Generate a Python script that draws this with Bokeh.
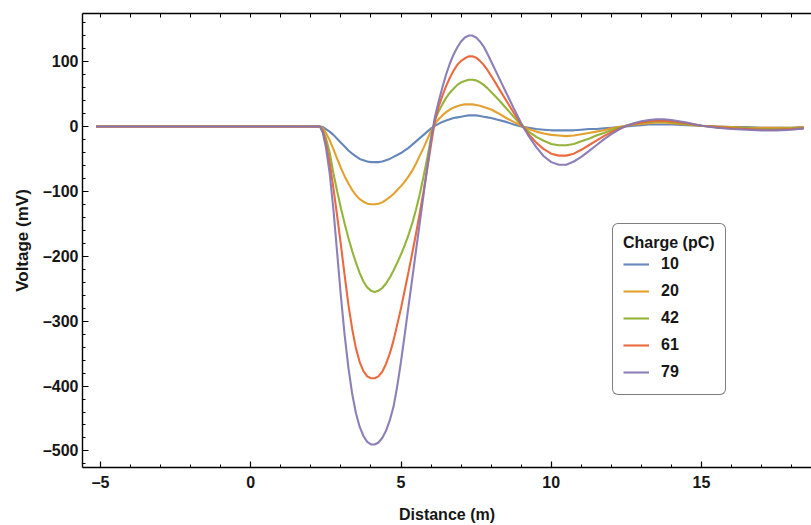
from bokeh.plotting import figure
from bokeh.models import (LinearAxis, SingleIntervalTicker, FixedTicker, Range1d,
                          Legend, LegendItem, CustomJSTickFormatter)
from bokeh.embed import file_html
from bokeh.resources import INLINE

# ---------------- data ----------------
distance = [-5.15, -4, -3, -2, -1, 0, 1, 2, 2.3, 2.4,
            2.5, 2.625, 2.75, 2.875, 3.0, 3.125, 3.25, 3.375, 3.5, 3.625,
            3.75, 3.875, 4.0, 4.125, 4.25, 4.375, 4.5, 4.625, 4.75, 4.875,
            5.0, 5.125, 5.25, 5.375, 5.5, 5.625, 5.75, 5.875, 6.0, 6.125,
            6.25, 6.375, 6.5, 6.625, 6.75, 6.875, 7.0, 7.125, 7.25, 7.375,
            7.5, 7.625, 7.75, 7.875, 8.0,
            8.25, 8.5, 8.75, 9.0, 9.25, 9.5, 9.75, 10.0, 10.25, 10.5,
            10.75, 11.0, 11.25, 11.5, 11.75, 12.0, 12.25, 12.5, 12.75, 13.0,
            13.25, 13.5, 13.75, 14.0,
            14.5, 15.0, 15.5, 16.0, 16.5, 17.0, 17.5, 18.0, 18.4]

v_10 = [0, 0, 0, 0, 0, 0, 0, 0, 0, -1,
        -4, -8, -13, -19, -25, -31, -37, -42, -46, -50,
        -52, -54, -55, -55, -55, -54, -52, -50, -47, -44,
        -41, -37, -33, -28, -23, -18, -13, -8, -3, 1,
        4, 7, 9, 11, 13, 14, 15, 16, 17, 17,
        17, 16, 15, 14, 13,
        10, 7, 3, 0, -2, -4, -5, -6, -6, -6,
        -6, -5, -4, -4, -3, -2, -1, 0, 1, 2,
        3, 3, 3, 3,
        2, 1, 0, -1, -1, -2, -2, -2, -1]

v_20 = [0, 0, 0, 0, 0, 0, 0, 0, 0, -3,
        -10, -21, -35, -50, -64, -77, -88, -98, -106, -112,
        -116, -119, -120, -120, -119, -117, -113, -109, -104, -98,
        -92, -85, -77, -68, -57, -45, -33, -20, -7, 4,
        11, 17, 22, 26, 29, 31, 33, 34, 34, 34,
        33, 32, 30, 28, 26,
        20, 13, 7, 1, -4, -8, -11, -13, -14, -15,
        -14, -12, -10, -8, -6, -3, -1, 1, 3, 4,
        5, 6, 6, 5,
        3, 1, 0, -1, -2, -2, -2, -2, -1]

v_42 = [0, 0, 0, 0, 0, 0, 0, 0, 0, -6,
        -18, -40, -72, -100, -126, -150, -172, -192, -210, -226,
        -239, -248, -253, -255, -253, -249, -242, -233, -222, -210,
        -197, -183, -167, -149, -128, -104, -77, -48, -17, 10,
        23, 34, 44, 52, 58, 64, 68, 70, 72, 72,
        71, 68, 64, 59, 53,
        41, 28, 15, 2, -8, -16, -22, -27, -29, -29,
        -27, -23, -19, -14, -10, -6, -2, 1, 4, 6,
        7, 8, 8, 7,
        4, 1, -1, -2, -3, -4, -4, -3, -2]

v_61 = [0, 0, 0, 0, 0, 0, 0, 0, 0, -8,
        -25, -55, -95, -138, -183, -230, -275, -312, -342, -363,
        -377, -385, -388, -388, -385, -378, -366, -350, -330, -305,
        -280, -252, -224, -195, -165, -133, -100, -65, -28, 8,
        30, 47, 62, 75, 86, 95, 101, 105, 108, 108,
        106, 101, 95, 87, 78,
        59, 40, 21, 3, -12, -25, -35, -42, -45, -45,
        -42, -36, -29, -22, -15, -9, -4, 1, 4, 6,
        8, 9, 9, 8,
        5, 1, -1, -3, -4, -5, -5, -4, -3]

v_79 = [0, 0, 0, 0, 0, 0, 0, 0, 0, -10,
        -32, -72, -128, -195, -262, -322, -372, -412, -442, -463,
        -477, -486, -490, -490, -487, -480, -469, -453, -432, -400,
        -362, -320, -277, -234, -191, -148, -105, -62, -20, 14,
        38, 60, 80, 97, 111, 122, 131, 137, 140, 140,
        137, 131, 123, 112, 100,
        76, 52, 28, 5, -15, -32, -46, -55, -59, -59,
        -54, -47, -38, -29, -20, -12, -5, 1, 5, 8,
        10, 11, 11, 10,
        6, 1, -2, -4, -5, -6, -6, -5, -3]

charges = ["10", "20", "42", "61", "79"]
series = [v_10, v_20, v_42, v_61, v_79]
colors = ["#5E81B5", "#E19C24", "#8FB032", "#EB6235", "#8778B3"]
for s in series:
    assert len(s) == len(distance)

x_ticks_every = 5
y_ticks_every = 100
top_minor_ticks = list(range(-5, 19))

FONT = "Liberation Sans"
INK = "#161616"

# ---------------- figure ----------------
p = figure(width=811, height=525, output_backend="svg", toolbar_location=None,
           x_range=Range1d(-5.6, 18.66), y_range=Range1d(-525.5, 174),
           x_axis_location=None, y_axis_location=None,
           min_border_left=82, min_border_right=0,
           min_border_top=13, min_border_bottom=58)
p.outline_line_color = None
p.background_fill_color = "white"
p.border_fill_color = "white"
p.xgrid.grid_line_color = None
p.ygrid.grid_line_color = None

fmt = CustomJSTickFormatter(code="return tick < 0 ? '–' + Math.abs(tick) : String(tick);")


def style_axis(ax):
    ax.axis_line_color = "black"
    ax.axis_line_width = 1.4
    ax.major_tick_line_color = "black"
    ax.minor_tick_line_color = "black"
    ax.major_tick_line_width = 1.2
    ax.minor_tick_line_width = 1.0
    ax.major_tick_in = 6
    ax.major_tick_out = 0
    ax.minor_tick_in = 3
    ax.minor_tick_out = 0
    ax.major_label_text_font = FONT
    ax.major_label_text_font_style = "bold"
    ax.major_label_text_font_size = "16px"
    ax.major_label_text_color = INK
    ax.axis_label_text_font = FONT
    ax.axis_label_text_font_style = "bold"
    ax.axis_label_text_color = INK


xb = LinearAxis(ticker=SingleIntervalTicker(interval=x_ticks_every, num_minor_ticks=5),
                formatter=fmt, axis_label="Distance (m)")
style_axis(xb)
xb.major_label_standoff = 6
xb.axis_label_standoff = 12
xb.axis_label_text_font_size = "16px"
p.add_layout(xb, "below")

# mirrored ticks along the top edge (no labels)
xa = LinearAxis(ticker=FixedTicker(ticks=[], minor_ticks=top_minor_ticks))
style_axis(xa)
xa.minor_tick_in = 4
xa.major_label_standoff = 0
p.add_layout(xa, "above")

yl = LinearAxis(ticker=SingleIntervalTicker(interval=y_ticks_every, num_minor_ticks=5),
                formatter=fmt, axis_label="Voltage (mV)")
style_axis(yl)
yl.major_label_standoff = 4
yl.axis_label_standoff = 8
yl.axis_label_text_font_size = "17px"
p.add_layout(yl, "left")

# ---------------- curves ----------------
items = []
for name, vals, col in zip(charges, series, colors):
    r = p.line(distance, vals, line_color=col, line_width=2.1, line_alpha=0.95)
    items.append(LegendItem(label=name, renderers=[r]))

legend = Legend(items=items, title="Charge (pC)", location=(530, 72))
legend.title_text_font = FONT
legend.title_text_font_style = "bold"
legend.title_text_font_size = "16px"
legend.title_text_color = INK
legend.title_standoff = 0
legend.label_text_font = FONT
legend.label_text_font_style = "bold"
legend.label_text_font_size = "16px"
legend.label_text_color = INK
legend.glyph_width = 26
legend.glyph_height = 24
legend.label_height = 24
legend.label_standoff = 12
legend.spacing = 3
legend.padding = 10
legend.margin = 0
legend.border_line_color = "black"
legend.border_line_width = 1.5
legend.background_fill_color = "white"
legend.background_fill_alpha = 1.0
if "border_radius" in Legend.properties():
    legend.border_radius = 6
p.add_layout(legend)

open("out.html", "w").write(file_html(p, INLINE))
